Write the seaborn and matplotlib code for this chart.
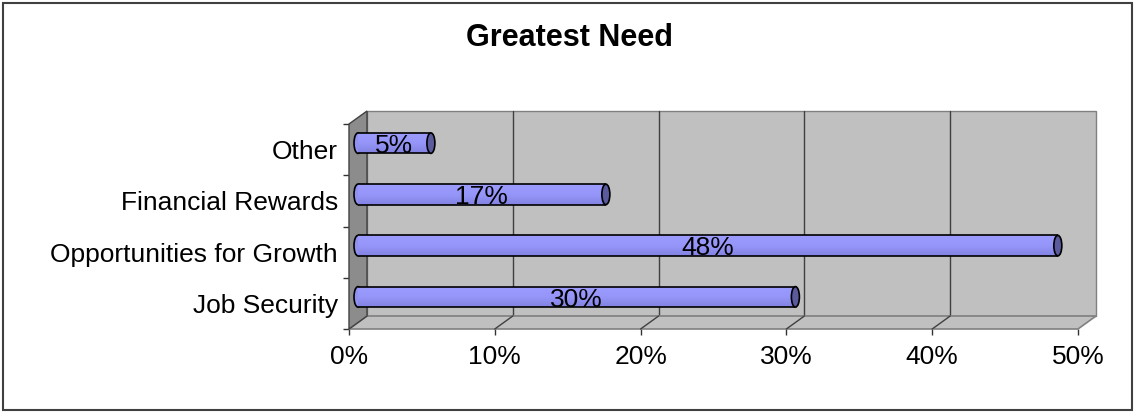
import numpy as np
import pandas as pd
import matplotlib
matplotlib.use("Agg")
import matplotlib.pyplot as plt
import seaborn as sns
from matplotlib.patches import Polygon, Ellipse, Rectangle
from matplotlib.colors import LinearSegmentedColormap
from matplotlib.ticker import FuncFormatter, FixedLocator

# --- data -------------------------------------------------------------
categories = ["Other", "Financial Rewards", "Opportunities for Growth", "Job Security"]
shares = [5, 17, 48, 30]          # percent
x_ticks = [0, 10, 20, 30, 40, 50]
title = "Greatest Need"

# --- figure geometry (pixels) ----------------------------------------
W, H, DPI = 1135, 413, 100
AX_L, AX_R, AX_T, AX_B = 349, 1078, 124, 329   # front plane of the plot box
DEPTH_X, DEPTH_Y = 18, 13                       # 3-D depth offset in pixels
CAP_W = 8                                        # cylinder cap width in pixels
LABEL_SIZE = 19

sns.set_theme(style="white")
plt.rcParams["font.family"] = ["Liberation Sans", "DejaVu Sans"]

fig = plt.figure(figsize=(W / DPI, H / DPI), dpi=DPI)
fig.patch.set_facecolor("white")
ax = fig.add_axes([AX_L / W, 1 - AX_B / H, (AX_R - AX_L) / W, (AX_B - AX_T) / H])
ax.patch.set_alpha(0)

df = pd.DataFrame({"need": categories, "share": shares})
sns.barplot(data=df, x="share", y="need", orient="h", width=0.4,
            color="#9090f0", ax=ax, zorder=4)
bars = list(ax.patches)

xmax = x_ticks[-1]
n = len(categories)
ax.set_xlim(0, xmax)
ax.set_ylim(n - 0.5, -0.5)

# pixel -> data unit conversion
sx = xmax / (AX_R - AX_L)
sy = n / (AX_B - AX_T)
ddx, ddy = DEPTH_X * sx, DEPTH_Y * sy
y_lo, y_hi = -0.5, n - 0.5

wall = "#c0c0c0"
edge = "#808080"
grid = "#404040"

# back wall
ax.add_patch(Rectangle((ddx, y_lo - ddy), xmax, n, facecolor=wall,
                       edgecolor=edge, lw=1, zorder=0, clip_on=False))
for v in x_ticks[1:-1]:
    ax.plot([v + ddx, v + ddx], [y_lo - ddy, y_hi - ddy], color=grid,
            lw=1, zorder=1, clip_on=False)

# floor
ax.add_patch(Polygon([(0, y_hi), (xmax, y_hi), (xmax + ddx, y_hi - ddy),
                      (ddx, y_hi - ddy)], closed=True, facecolor=wall,
                     edgecolor=edge, lw=1.2, zorder=1, clip_on=False))
for v in x_ticks[1:-1]:
    ax.plot([v, v + ddx], [y_hi, y_hi - ddy], color=grid, lw=1,
            zorder=1.5, clip_on=False)

# left side wall
ax.add_patch(Polygon([(0, y_lo), (0, y_hi), (ddx, y_hi - ddy),
                      (ddx, y_lo - ddy)], closed=True, facecolor="#8c8c8c",
                     edgecolor="#404040", lw=1, zorder=2, clip_on=False))

# cylinders
shade = LinearSegmentedColormap.from_list("cyl", ["#9c9cff", "#9696fa", "#8282e2"])
grad = np.linspace(0, 1, 64).reshape(-1, 1)
cap_w = CAP_W * sx
for p, val in zip(bars, shares):
    x0 = p.get_x() + ddx / 2
    y0 = p.get_y() - ddy / 2
    w, h = p.get_width(), p.get_height()
    p.set_x(x0)
    p.set_y(y0)
    p.set_facecolor("none")
    p.set_edgecolor("none")
    p.set_clip_on(False)
    # rounded left end
    ax.add_patch(Ellipse((x0, y0 + h / 2), cap_w, h, facecolor="#9090f0",
                         edgecolor="black", lw=1.2, zorder=3, clip_on=False))
    # body shading
    im = ax.imshow(grad, cmap=shade, aspect="auto", origin="upper",
                   extent=(x0, x0 + w, y0 + h, y0), zorder=4,
                   interpolation="bilinear")
    im.set_clip_path(p)
    ax.plot([x0, x0 + w], [y0, y0], color="black", lw=1.2, zorder=5,
            clip_on=False, solid_capstyle="butt")
    ax.plot([x0, x0 + w], [y0 + h, y0 + h], color="black", lw=1.2, zorder=5,
            clip_on=False, solid_capstyle="butt")
    # end cap
    ax.add_patch(Ellipse((x0 + w, y0 + h / 2), cap_w, h, facecolor="#5a5a9c",
                         edgecolor="black", lw=1.2, zorder=6, clip_on=False))
    ax.annotate(f"{val}%", (x0 + w / 2, y0 + h / 2), xytext=(0, -2),
                textcoords="offset points", ha="center", va="center",
                fontsize=LABEL_SIZE, color="black", zorder=7)

ax.set_xlim(0, xmax)
ax.set_ylim(n - 0.5, -0.5)

# axes, ticks and labels
for s in ax.spines.values():
    s.set_visible(False)
ax.set_xlabel("")
ax.set_ylabel("")
ax.set_xticks(x_ticks)
ax.xaxis.set_major_formatter(FuncFormatter(lambda v, _: f"{v:.0f}%"))
ax.tick_params(axis="x", bottom=True, length=4.5, width=1, color="#333333",
               pad=7, labelsize=LABEL_SIZE, labelcolor="black")
ax.set_yticks(range(n))
ax.set_yticklabels(categories)
ax.tick_params(axis="y", left=False, length=0, pad=8, labelsize=LABEL_SIZE,
               labelcolor="black")
ax.yaxis.set_minor_locator(FixedLocator(np.arange(-0.5, n, 1.0)))
ax.tick_params(axis="y", which="minor", left=True, length=4.5, width=1,
               color="#333333")
ax.grid(False)

fig.text(570 / W, 1 - 45.5 / H, title, ha="center", va="baseline",
         fontsize=22, fontweight="bold", color="black")

# chart frame
fig.patches.append(Rectangle((3 / W, 3 / H), 1129 / W, 407 / H,
                             transform=fig.transFigure, fill=False,
                             edgecolor="#404040", lw=1.5))

fig.savefig("out.png", dpi=DPI, facecolor="white")
